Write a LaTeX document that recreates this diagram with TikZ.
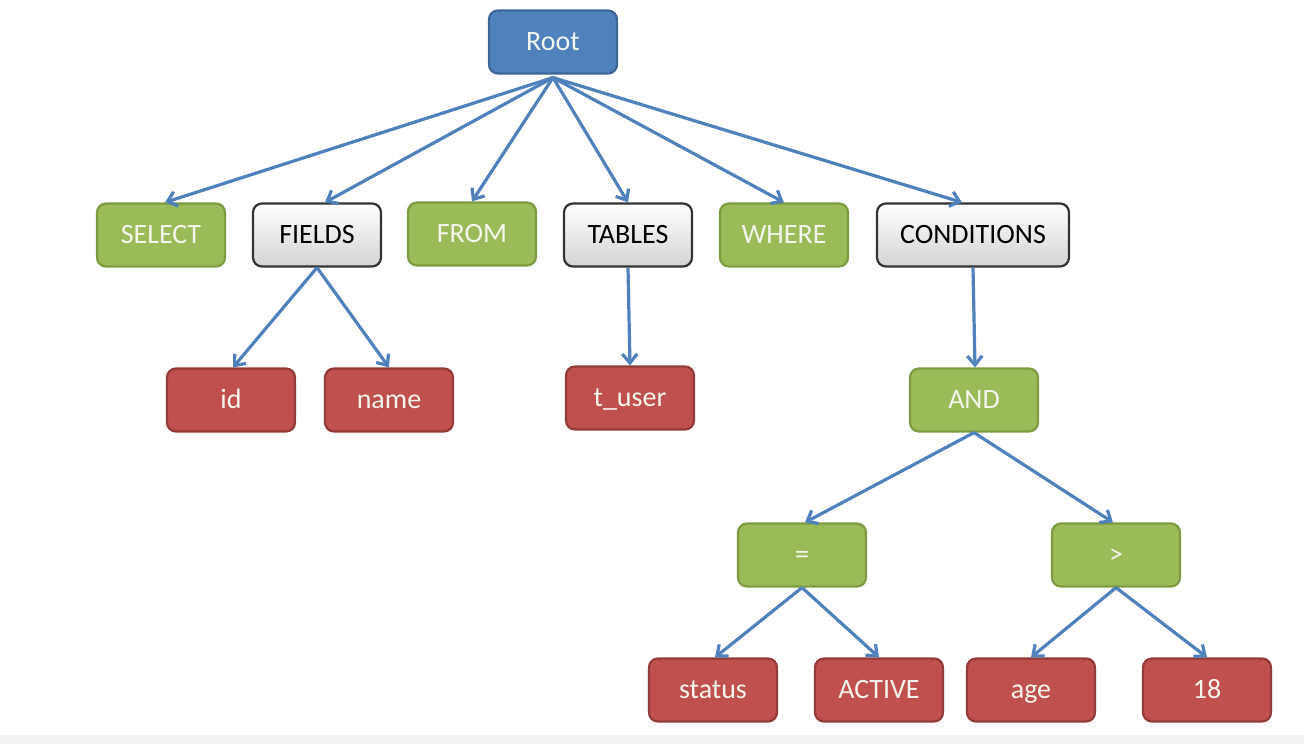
\documentclass[tikz,border=0pt]{standalone}
\usepackage{fontspec}
\setmainfont{Carlito}
\usetikzlibrary{arrows.meta,shadings}
\definecolor{bfill}{HTML}{4F81BD}
\definecolor{bdraw}{HTML}{3A6596}
\definecolor{gfill}{HTML}{9BBB59}
\definecolor{gdraw}{HTML}{7D9B40}
\definecolor{rfill}{HTML}{C0504D}
\definecolor{rdraw}{HTML}{923B39}
\definecolor{edge}{HTML}{4F81BD}
\definecolor{txtw}{HTML}{F4F6EE}
\tikzset{
  box/.style={rounded corners=9pt, minimum width=128pt, minimum height=63pt, line width=2.2pt, font=\fontsize{28}{32}\selectfont, inner sep=0pt, text height=18pt, text depth=1pt},
  bluebox/.style={box, fill=bfill, draw=bdraw, text=txtw},
  greenbox/.style={box, fill=gfill, draw=gdraw, text=txtw},
  redbox/.style={box, fill=rfill, draw=rdraw, text=txtw},
  graybox/.style={box, top color=white, bottom color=black!17, draw=black!80, text=black},
  conn/.style={draw=edge, line width=3.2pt, -{Straight Barb[length=9pt,width=15pt]}},
}
\begin{document}
\begin{tikzpicture}[x=1pt,y=-1pt]
\useasboundingbox (0,0) rectangle (1304,744);
\fill[black!5] (0,735) rectangle (1304,744);
\node[bluebox] (root) at (553,42) {Root};
\node[greenbox] (select) at (161,235) {SELECT};
\node[graybox] (fields) at (317,235) {FIELDS};
\node[greenbox] (from) at (472,234) {FROM};
\node[graybox] (tables) at (628,235) {TABLES};
\node[greenbox] (where) at (784,235) {WHERE};
\node[graybox, minimum width=192pt] (cond) at (973,235) {CONDITIONS};
\node[redbox] (id) at (231,400) {id};
\node[redbox] (name) at (389,400) {name};
\node[redbox] (tuser) at (630,398) {t\_user};
\node[greenbox] (and) at (974,400) {AND};
\node[greenbox] (eq) at (802,555) {=};
\node[greenbox] (gt) at (1116,555) {>};
\node[redbox] (status) at (713,690) {status};
\node[redbox] (active) at (879,690) {ACTIVE};
\node[redbox] (age) at (1031,690) {age};
\node[redbox] (eighteen) at (1207,690) {18};
\coordinate (rs) at ([yshift=-3pt]root.south);
\draw[conn] (rs) -- ([xshift=4pt]select.north);
\draw[conn] (rs) -- ([xshift=8pt]fields.north);
\draw[conn] (rs) -- (from.north);
\draw[conn] (rs) -- (tables.north);
\draw[conn] (rs) -- (where.north);
\draw[conn] (rs) -- ([xshift=-11pt]cond.north);
\draw[conn] (fields.south) -- ([xshift=2pt]id.north);
\draw[conn] (fields.south) -- (name.north);
\draw[conn] (tables.south) -- (tuser.north);
\draw[conn] (cond.south) -- ([xshift=1pt]and.north);
\draw[conn] (and.south) -- ([xshift=3pt]eq.north);
\draw[conn] (and.south) -- ([xshift=-3pt]gt.north);
\draw[conn] (eq.south) -- ([xshift=2pt]status.north);
\draw[conn] (eq.south) -- (active.north);
\draw[conn] (gt.south) -- (age.north);
\draw[conn] (gt.south) -- (eighteen.north);
\end{tikzpicture}
\end{document}
